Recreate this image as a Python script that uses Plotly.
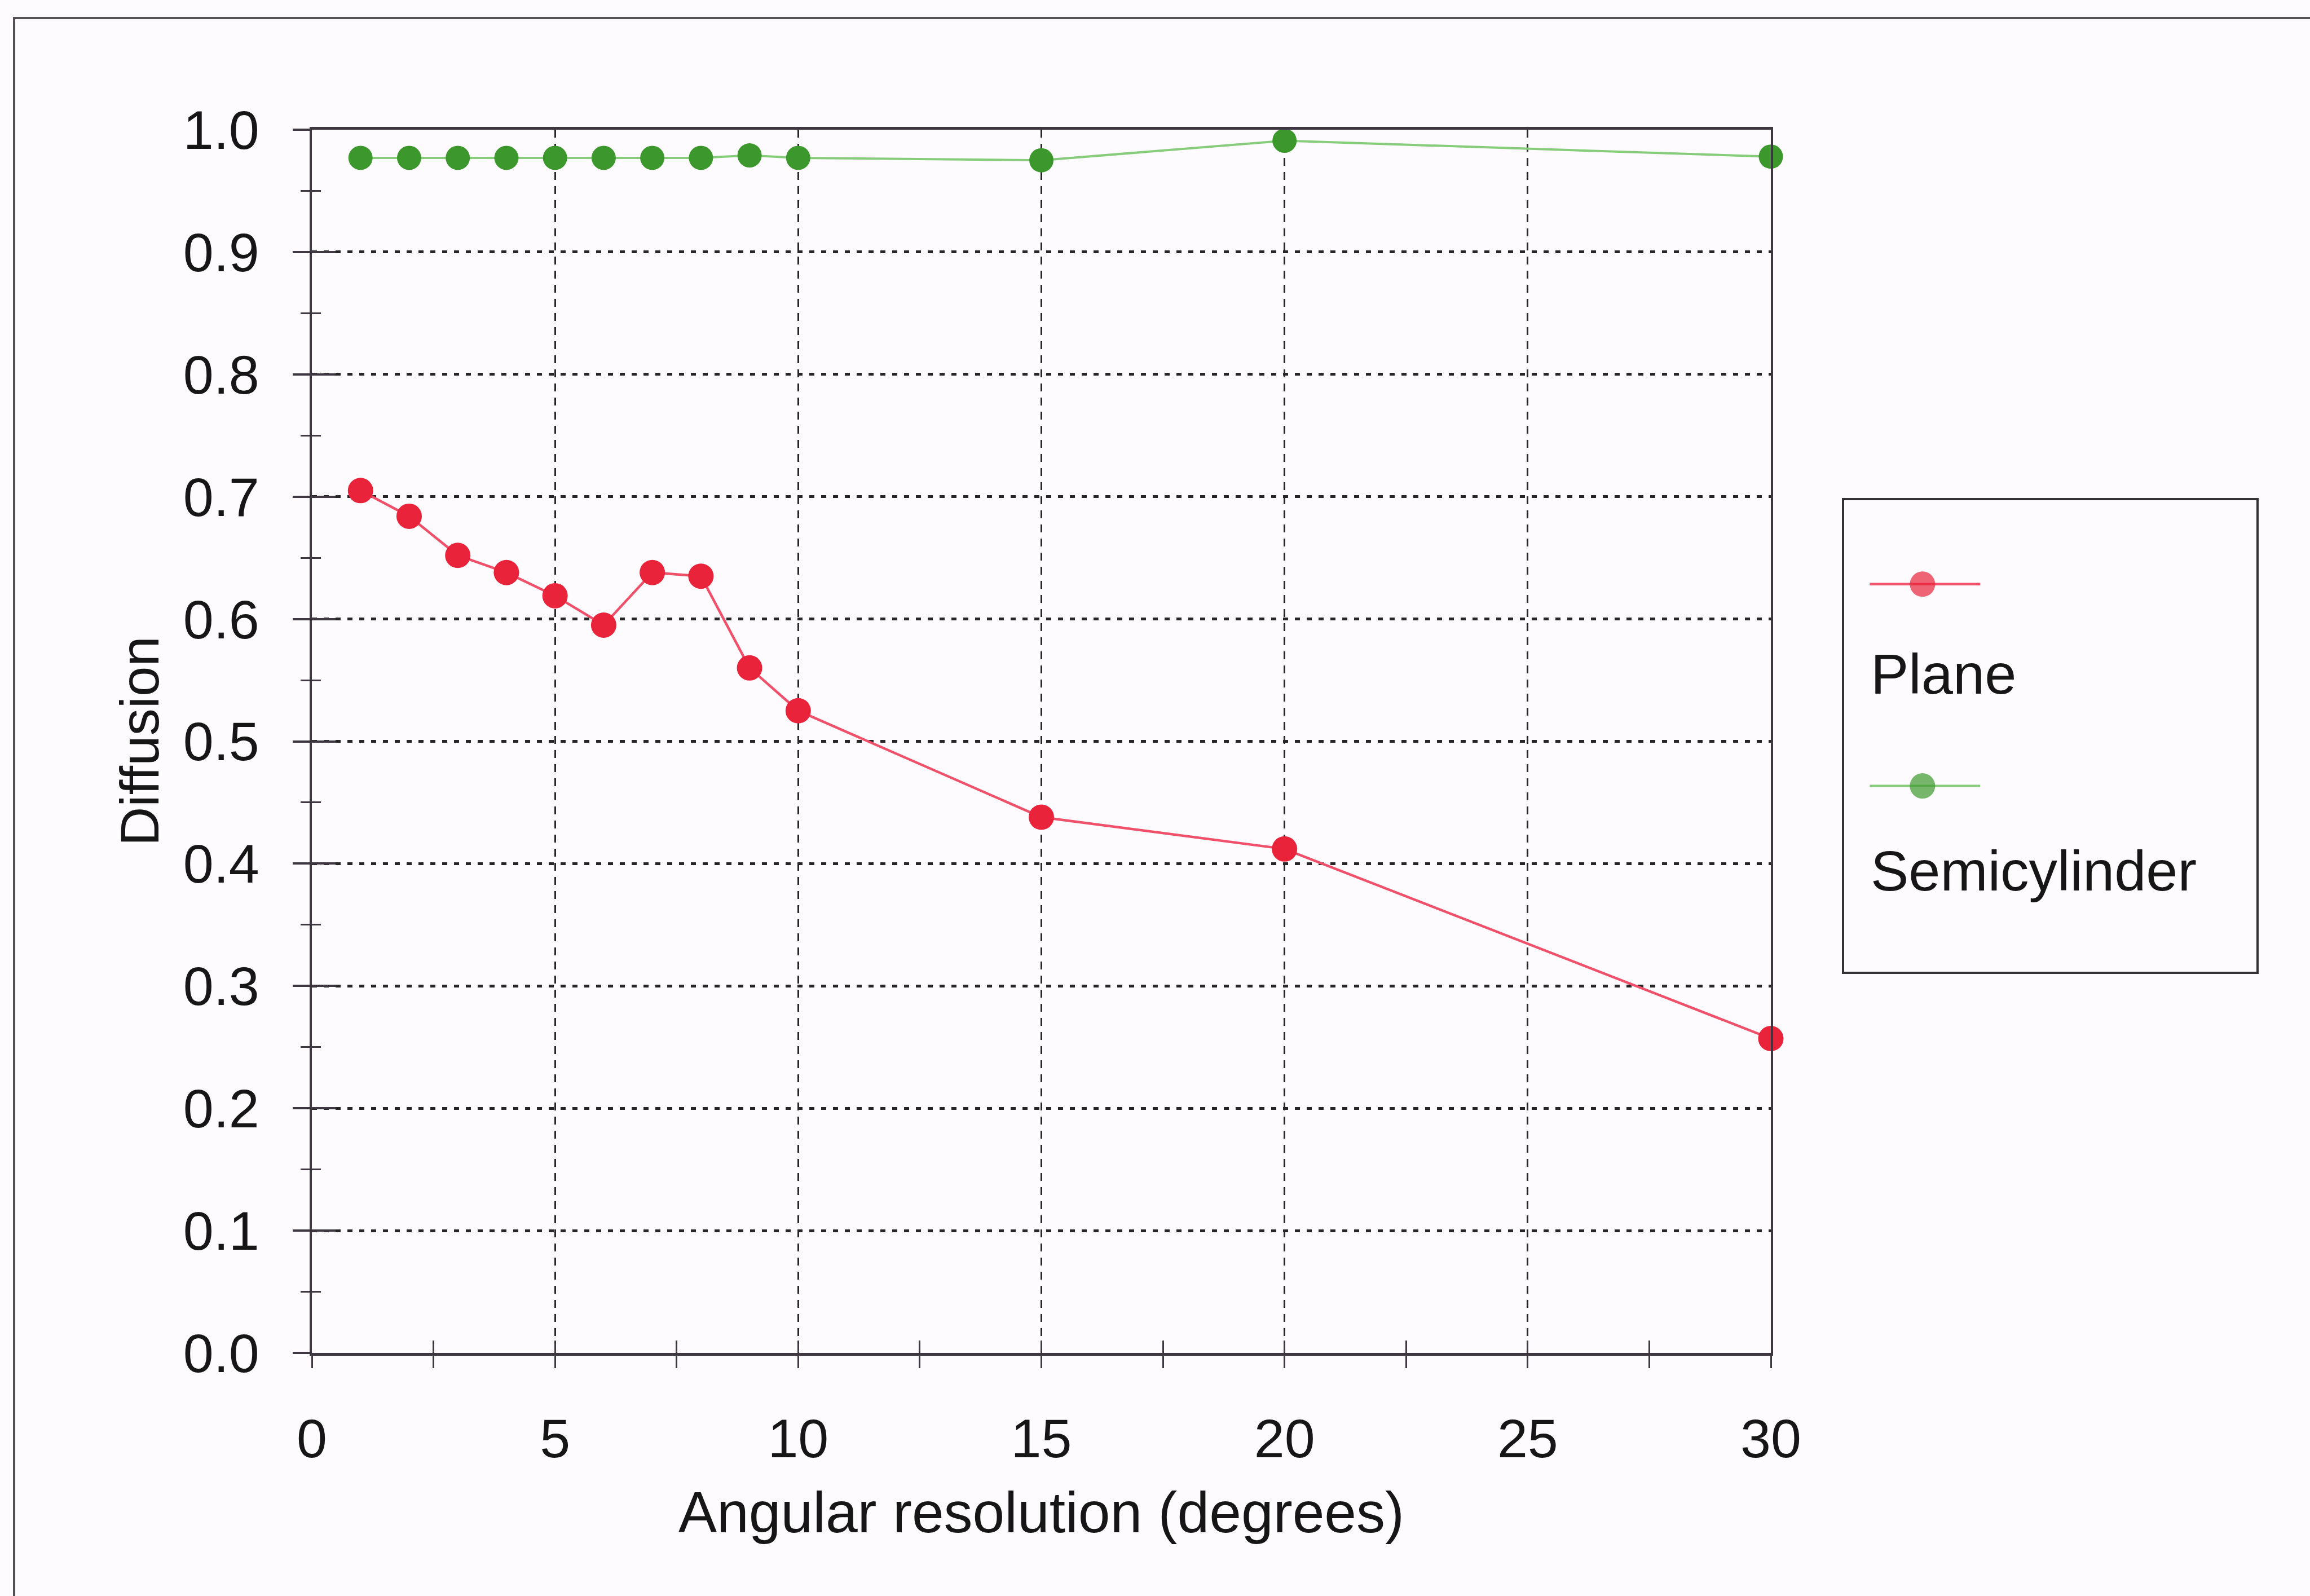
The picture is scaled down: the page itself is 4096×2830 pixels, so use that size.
import plotly.graph_objects as go

# ---------------- data ----------------
angles = [1, 2, 3, 4, 5, 6, 7, 8, 9, 10, 15, 20, 30]
plane = [0.705, 0.684, 0.652, 0.638, 0.619, 0.595, 0.638, 0.635, 0.560, 0.525, 0.438, 0.412, 0.257]
semicylinder = [0.977, 0.977, 0.977, 0.977, 0.977, 0.977, 0.977, 0.977, 0.979, 0.977, 0.975, 0.991, 0.978]
series_names = ["Plane", "Semicylinder"]
x_tickvals = [0, 5, 10, 15, 20, 25, 30]
x_ticktext = ["0", "5", "10", "15", "20", "25", "30"]
y_tickvals = [0.0, 0.1, 0.2, 0.3, 0.4, 0.5, 0.6, 0.7, 0.8, 0.9, 1.0]
y_ticktext = ["0.0", "0.1", "0.2", "0.3", "0.4", "0.5", "0.6", "0.7", "0.8", "0.9", "1.0"]
x_title = "Angular resolution (degrees)"
y_title = "Diffusion"

# ---------------- layout constants (pixels in 4096x2830) ----------------
W, H = 4096, 2830
PL, PR, PT, PB = 553, 3140, 230, 2399          # plot area
LG_L, LG_R, LG_T, LG_B = 3270, 4001, 887, 1723  # legend box

def px(x):
    return x / W

def py(y):
    return 1 - y / H

FONT = "Liberation Sans, Arial, Helvetica, sans-serif"
INK = "#161616"
AX = "#3e3640"
GRID = "#262626"
RED_LINE, RED_MK = "#f0506a", "#e8233a"
GRN_LINE, GRN_MK = "#86cc7a", "#3c982c"
MK = 45

fig = go.Figure()

fig.add_trace(go.Scatter(
    x=angles, y=plane, name=series_names[0], mode="lines+markers",
    line=dict(color=RED_LINE, width=4.5),
    marker=dict(color=RED_MK, size=MK, line=dict(width=0)),
    cliponaxis=False, showlegend=False))
fig.add_trace(go.Scatter(
    x=angles, y=semicylinder, name=series_names[1], mode="lines+markers",
    line=dict(color=GRN_LINE, width=4),
    marker=dict(color=GRN_MK, size=MK - 2, line=dict(width=0)),
    cliponaxis=False, showlegend=False))

# empty trace that makes the overlay axes (inner half of the crossing ticks) exist
fig.add_trace(go.Scatter(x=[None], y=[None], xaxis="x3", yaxis="y3",
                         showlegend=False, hoverinfo="skip"))

# custom legend: sample line with a marker in the middle, label underneath
leg_rows = [(0.822, RED_LINE, RED_MK, 4.5), (0.394, GRN_LINE, GRN_MK, 4)]
for name, (yy, lc, mc, lw) in zip(series_names, leg_rows):
    fig.add_trace(go.Scatter(
        x=[0.062, 0.19, 0.33], y=[yy, yy, yy], xaxis="x2", yaxis="y2",
        mode="lines+markers", line=dict(color=lc, width=lw),
        marker=dict(color=mc, size=[0, MK, 0], line=dict(width=0)),
        showlegend=False, hoverinfo="skip", name=name))

tickfont = dict(family=FONT, size=97, color=INK)

fig.update_layout(
    width=W, height=H,
    margin=dict(l=0, r=0, t=0, b=0, pad=0, autoexpand=False),
    paper_bgcolor="#fdfbfd", plot_bgcolor="#fdfbfd",
    font=dict(family=FONT, color=INK),
    showlegend=False,
    xaxis=dict(
        domain=[px(PL), px(PR)], anchor="y", range=[0, 30], automargin=False,
        tickmode="array", tickvals=x_tickvals, ticktext=x_ticktext,
        ticks="outside", ticklen=22, tickwidth=3, tickcolor=AX,
        minor=dict(dtick=2.5, tick0=0, ticks="outside", ticklen=22,
                   tickwidth=3, tickcolor=AX, showgrid=False),
        showgrid=True, gridcolor=GRID, gridwidth=3, griddash="14px,11px",
        showline=True, linecolor=AX, linewidth=5, mirror=True,
        zeroline=False, tickfont=tickfont, ticklabelstandoff=42,
    ),
    yaxis=dict(
        domain=[py(PB), py(PT)], anchor="x", range=[0, 1], automargin=False,
        tickmode="array", tickvals=y_tickvals, ticktext=y_ticktext,
        ticks="outside", ticklen=30, tickwidth=4, tickcolor=AX,
        minor=dict(dtick=0.05, tick0=0, ticks="outside", ticklen=16,
                   tickwidth=3, tickcolor=AX, showgrid=False),
        showgrid=True, gridcolor=GRID, gridwidth=5, griddash="9px,12px",
        showline=True, linecolor=AX, linewidth=4, mirror=True,
        zeroline=False, tickfont=tickfont, ticklabelstandoff=40,
    ),
    xaxis3=dict(
        overlaying="x", anchor="y3", range=[0, 30], side="bottom", automargin=False,
        tickmode="array", tickvals=x_tickvals, showticklabels=False,
        ticks="inside", ticklen=22, tickwidth=3, tickcolor=AX,
        minor=dict(dtick=2.5, tick0=0, ticks="inside", ticklen=22,
                   tickwidth=3, tickcolor=AX, showgrid=False),
        showgrid=False, showline=False, zeroline=False,
    ),
    yaxis3=dict(
        overlaying="y", anchor="x3", range=[0, 1], side="left", automargin=False,
        tickmode="array", tickvals=y_tickvals, showticklabels=False,
        ticks="inside", ticklen=42, tickwidth=4, tickcolor=AX,
        minor=dict(dtick=0.05, tick0=0, ticks="inside", ticklen=16,
                   tickwidth=3, tickcolor=AX, showgrid=False),
        showgrid=False, showline=False, zeroline=False,
    ),
    xaxis2=dict(
        domain=[px(LG_L), px(LG_R)], anchor="y2", range=[0, 1], automargin=False,
        showline=True, mirror=True, linecolor="#333333", linewidth=3.5,
        showgrid=False, zeroline=False, showticklabels=False, ticks="",
        fixedrange=True,
    ),
    yaxis2=dict(
        domain=[py(LG_B), py(LG_T)], anchor="x2", range=[0, 1], automargin=False,
        showline=True, mirror=True, linecolor="#333333", linewidth=3.5,
        showgrid=False, zeroline=False, showticklabels=False, ticks="",
        fixedrange=True,
    ),
    annotations=[
        dict(text=x_title, xref="paper", yref="paper",
             x=px((PL + PR) / 2), y=py(2682), xanchor="center", yanchor="middle",
             showarrow=False, font=dict(family=FONT, size=102, color=INK)),
        dict(text=y_title, xref="paper", yref="paper",
             x=px(247), y=py(1314), xanchor="center", yanchor="middle",
             textangle=-90, showarrow=False,
             font=dict(family=FONT, size=96, color=INK)),
        dict(text=series_names[0], xref="x2", yref="y2", x=0.062, y=0.632,
             xanchor="left", yanchor="middle", showarrow=False,
             font=dict(family=FONT, size=101, color=INK)),
        dict(text=series_names[1], xref="x2", yref="y2", x=0.062, y=0.214,
             xanchor="left", yanchor="middle", showarrow=False,
             font=dict(family=FONT, size=101, color=INK)),
    ],
    shapes=[
        dict(type="rect", xref="paper", yref="paper",
             x0=px(25), x1=1.02, y0=-0.02, y1=py(32),
             line=dict(color="#555055", width=4), fillcolor="rgba(0,0,0,0)",
             layer="below"),
    ],
)

fig.write_html("out.html")
